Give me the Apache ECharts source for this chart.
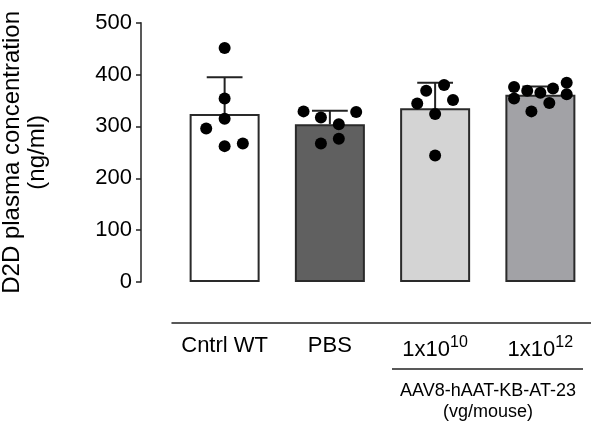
<!DOCTYPE html>
<html>
<head>
<meta charset="utf-8">
<script src="https://cdn.jsdelivr.net/npm/echarts@6/dist/echarts.min.js"></script>
<style>
html, body { margin: 0; padding: 0; background: #fff; }
#main { width: 591px; height: 429px; }
</style>
</head>
<body>
<div id="main"></div>
<script>
// groups on the x axis ('^' marks the exponent)
var groups = ['Cntrl WT', 'PBS', '1x10^10', '1x10^12'];
// bar height = mean, whisker = mean + SD (ng/ml)
var means = [324, 304, 335, 361];
var sdUp = [71, 26, 49, 16];
// individual mice (ng/ml)
var valuesWT = [451, 354, 315, 296, 262, 267];
var valuesPBS = [329, 328, 317, 304, 276, 267];
var valuesLow = [380, 369, 351, 344, 324, 244];
var valuesHigh = [376, 354, 369, 365, 373, 384, 362, 345, 329];
// horizontal scatter of the dots, in category widths
var jitterWT = [0, 0, 0, -0.175, 0, 0.173];
var jitterPBS = [-0.25, 0.25, -0.085, 0.085, 0.085, -0.085];
var jitterLow = [0.085, -0.085, 0.17, -0.17, 0, 0];
var jitterHigh = [-0.25, -0.25, -0.125, 0, 0.12, 0.25, 0.25, 0.085, -0.085];
var yTicks = [0, 100, 200, 300, 400, 500];

var barColors = ['#ffffff', '#606060', '#d4d4d4', '#a2a2a6'];
var FONT = '"Liberation Sans", Arial, sans-serif';

function buildDots(){
	var vals = [valuesWT, valuesPBS, valuesLow, valuesHigh];
	var jit = [jitterWT, jitterPBS, jitterLow, jitterHigh];
	var out = [];
	for(var g=0;g<vals.length;g++){
		for(var k=0;k<vals[g].length;k++){
			out.push([g + jit[g][k], vals[g][k]]);
		}
	}
	return out;
}

function initChart(){
	var myChart = echarts.init(document.getElementById('main'), null, {renderer: 'canvas'});
	var option = {
		animation: false,
		backgroundColor: '#fff',
		grid: {
			left: 172,
			top: 22.7,
			width: 421,
			height: 259.3,
			containLabel: false,
			outerBoundsMode: 'none'
		},
		xAxis: [
			{
				type: 'category',
				data: groups,
				position: 'bottom',
				offset: 41,
				axisLine: {onZero: false, lineStyle: {color: '#222', width: 1.5}},
				axisTick: {alignWithLabel: true, length: 5, lineStyle: {color: '#222', width: 1.5}},
				axisLabel: {
					interval: 0,
					hideOverlap: false,
					margin: 12,
					color: '#000',
					fontSize: 22,
					fontFamily: FONT,
					formatter: function(v){
						var p = v.split('^');
						if(p.length < 2) return '{n|' + v + '}';
						return '{n|' + p[0] + '}{s|' + p[1] + '}';
					},
					rich: {
						n: {fontSize: 22, fontFamily: FONT, color: '#000', verticalAlign: 'bottom'},
						s: {fontSize: 16, fontFamily: FONT, color: '#000', verticalAlign: 'top', padding: [0, 0, 10, 0]}
					}
				}
			},
			{
				type: 'value',
				min: -0.5,
				max: 3.5,
				show: false
			}
		],
		yAxis: {
			type: 'value',
			min: yTicks[0],
			max: yTicks[yTicks.length - 1],
			interval: 100,
			offset: 31,
			name: 'D2D plasma concentration\n(ng/ml)',
			nameLocation: 'middle',
			nameGap: 91,
			nameTextStyle: {fontSize: 24, fontFamily: FONT, color: '#000', lineHeight: 25},
			axisLine: {show: true, onZero: false, lineStyle: {color: '#222', width: 1.5}},
			axisTick: {show: true, length: 5, lineStyle: {color: '#222', width: 1.5}},
			axisLabel: {margin: 9, color: '#000', fontSize: 22, fontFamily: FONT},
			splitLine: {show: false}
		},
		series: [
			{
				type: 'bar',
				xAxisIndex: 0,
				barWidth: 70,
				z: 2,
				data: means.map(function(m, i){
					return {value: m, itemStyle: {color: barColors[i]}};
				}),
				itemStyle: {borderColor: '#2a2a2a', borderWidth: 2}
			},
			{
				type: 'custom',
				xAxisIndex: 0,
				z: 3,
				encode: {x: 0, y: [1, 2]},
				data: means.map(function(m, i){ return [i, m, m + sdUp[i]]; }),
				renderItem: function(params, api){
					var i = api.value(0);
					var p0 = api.coord([i, api.value(1)]);
					var p1 = api.coord([i, api.value(2)]);
					var hw = api.size([1, 0])[0] * 0.17;
					var st = {stroke: '#222', lineWidth: 2};
					return {
						type: 'group',
						children: [
							{type: 'line', shape: {x1: p0[0], y1: p0[1], x2: p1[0], y2: p1[1]}, style: st},
							{type: 'line', shape: {x1: p1[0] - hw, y1: p1[1], x2: p1[0] + hw, y2: p1[1]}, style: st}
						]
					};
				}
			},
			{
				type: 'scatter',
				xAxisIndex: 1,
				z: 4,
				symbol: 'circle',
				symbolSize: 12,
				itemStyle: {color: '#000', opacity: 1},
				data: buildDots()
			}
		],
		graphic: [
			{
				type: 'line',
				shape: {x1: 392, y1: 369, x2: 583, y2: 369},
				style: {stroke: '#222', lineWidth: 1.5}
			},
			{
				type: 'text',
				x: 488,
				y: 402,
				style: {
					text: 'AAV8-hAAT-KB-AT-23\n(vg/mouse)',
					fontSize: 18,
					fontFamily: FONT,
					fill: '#000',
					align: 'center',
					verticalAlign: 'middle',
					lineHeight: 21
				}
			}
		]
	};
	myChart.setOption(option);
}

initChart();
</script>
</body>
</html>
